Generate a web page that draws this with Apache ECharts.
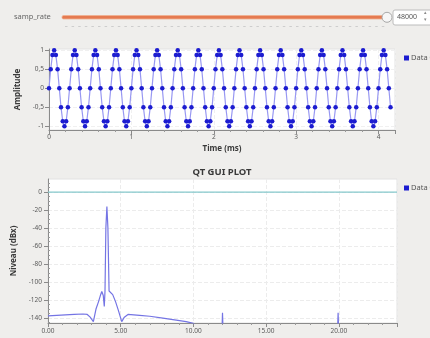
<!DOCTYPE html>
<html>
<head>
<meta charset="utf-8">
<script src="https://cdn.jsdelivr.net/npm/echarts@6/dist/echarts.min.js"></script>
<style>
html,body{margin:0;padding:0;background:#efeeec;}
#c{width:430px;height:338px;}
</style>
</head>
<body>
<div id="c"></div>
<script>
// ---- data ----
const sampRate = 48000;
const sliderValue = "48000";
// time-domain samples (amplitude)
const amplitude = [
0,0.5,0.87,1,0.87,0.5,0,-0.5,-0.87,-1,-0.87,-0.5,
0,0.5,0.87,1,0.87,0.5,0,-0.5,-0.87,-1,-0.87,-0.5,
0,0.5,0.87,1,0.87,0.5,0,-0.5,-0.87,-1,-0.87,-0.5,
0,0.5,0.87,1,0.87,0.5,0,-0.5,-0.87,-1,-0.87,-0.5,
0,0.5,0.87,1,0.87,0.5,0,-0.5,-0.87,-1,-0.87,-0.5,
0,0.5,0.87,1,0.87,0.5,0,-0.5,-0.87,-1,-0.87,-0.5,
0,0.5,0.87,1,0.87,0.5,0,-0.5,-0.87,-1,-0.87,-0.5,
0,0.5,0.87,1,0.87,0.5,0,-0.5,-0.87,-1,-0.87,-0.5,
0,0.5,0.87,1,0.87,0.5,0,-0.5,-0.87,-1,-0.87,-0.5,
0,0.5,0.87,1,0.87,0.5,0,-0.5,-0.87,-1,-0.87,-0.5,
0,0.5,0.87,1,0.87,0.5,0,-0.5,-0.87,-1,-0.87,-0.5,
0,0.5,0.87,1,0.87,0.5,0,-0.5,-0.87,-1,-0.87,-0.5,
0,0.5,0.87,1,0.87,0.5,0,-0.5,-0.87,-1,-0.87,-0.5,
0,0.5,0.87,1,0.87,0.5,0,-0.5,-0.87,-1,-0.87,-0.5,
0,0.5,0.87,1,0.87,0.5,0,-0.5,-0.87,-1,-0.87,-0.5,
0,0.5,0.87,1,0.87,0.5,0,-0.5,-0.87,-1,-0.87,-0.5,
0,0.5,0.87,1,0.87,0.5,0,-0.5
];
const ampTicks = [-1,-0.5,0,0.5,1];
const timeTicks = [0,1,2,3,4];

// spectrum (kHz, dB)
const freqKHz = [0,0.6,1.2,1.8,2.4,2.7,2.9,3.12,3.3,3.47,3.6,3.7,3.8,3.87,3.92,3.98,4.05,4.12,4.2,4.3,4.45,4.65,4.85,5.07,5.25,5.5,6.3,7.0,7.9,8.7,9.5,10.0,10.3,11.97,12.0,12.03,19.92,19.95,19.98,24];
const levelDb = [-137.5,-137,-136.5,-136,-135.5,-136,-139,-144,-130,-122,-115,-110.5,-115,-127,-110,-40,-16,-40,-110,-109.5,-114,-122,-132,-144,-139,-136,-137,-138,-140,-142,-144,-146,-150,-150,-134,-150,-150,-134,-150,-150];
const refLevel = 0;
const freqTicks = [0,5,10,15,20];
const dbTicks = [-140,-120,-100,-80,-60,-40,-20,0];
const dbMinor = [-145,-135,-130,-125,-115,-110,-105,-95,-90,-85,-75,-70,-65,-55,-50,-45,-35,-30,-25,-15,-10,-5,5,10];

// ---- build ----
const sineData = amplitude.map((v,i)=>[i/sampRate*1000, v]);
const specData = freqKHz.map((f,i)=>[f, levelDb[i]]);

const FONT = 'Noto Sans';
const labelStyle = {fontSize:6.5, color:'#5a5a5a', fontFamily:FONT};

const graphics = [];
graphics.push({type:'text', left:14, top:13, style:{text:'samp_rate', fontSize:7.5, fill:'#666', fontFamily:FONT}});
graphics.push({type:'rect', shape:{x:62, y:15.5, width:324, height:3.5, r:1.5}, style:{fill:'#e57a50', stroke:'#f0b090', lineWidth:0.8}});
for (let x=65; x<384; x+=6.6) {
  graphics.push({type:'rect', shape:{x:x, y:26, width:2.5, height:1}, style:{fill:'#cdcdcd'}});
}
graphics.push({type:'circle', shape:{cx:387, cy:17.3, r:5}, style:{fill:'#f6f6f6', stroke:'#a8a8a8', lineWidth:1}});
graphics.push({type:'rect', shape:{x:393, y:10, width:40, height:15, r:2}, style:{fill:'#ffffff', stroke:'#bcbcbc', lineWidth:1}});
graphics.push({type:'text', left:397, top:13, style:{text:sliderValue, fontSize:7, fill:'#555', fontFamily:FONT}});
graphics.push({type:'text', left:424, top:10, style:{text:'\u25B4', fontSize:5, fill:'#888'}});
graphics.push({type:'text', left:424, top:17, style:{text:'\u25BE', fontSize:5, fill:'#888'}});
graphics.push({type:'text', x:222, y:172, style:{text:'QT GUI PLOT', fontSize:9.5, fontWeight:'bold', fill:'#3a3a3a', fontFamily:FONT, align:'center', verticalAlign:'middle'}});

const chart = echarts.init(document.getElementById('c'), null, {renderer:'canvas'});
chart.setOption({
  backgroundColor:'#efeeec',
  animation:false,
  textStyle:{fontFamily:FONT},
  graphic: graphics,
  legend:[
    {data:['Data 0'], left:399, top:49, icon:'rect', itemWidth:5, itemHeight:5, itemGap:2,
     textStyle:{fontSize:7.5, color:'#555', padding:[0,0,0,-3]}, selectedMode:false},
    {data:['Data 0'], left:399, top:179, icon:'rect', itemWidth:5, itemHeight:5, itemGap:2,
     textStyle:{fontSize:7.5, color:'#555', padding:[0,0,0,-3]}, selectedMode:false}
  ],
  grid:[
    {left:49, top:49, width:346, height:81, show:true, backgroundColor:'#ffffff', borderColor:'#e2e2e2', borderWidth:1},
    {left:48, top:179, width:349, height:144, show:true, backgroundColor:'#ffffff', borderColor:'#e2e2e2', borderWidth:1}
  ],
  xAxis:[
    {type:'value', gridIndex:0, min:0, max:4.2, interval:1,
     name:'Time (ms)', nameLocation:'middle', nameGap:15,
     nameTextStyle:{fontSize:8, fontWeight:'bold', color:'#3a3a3a'},
     axisLine:{show:true, onZero:false, lineStyle:{color:'#8a8a8a'}},
     axisTick:{show:true, length:4, lineStyle:{color:'#8a8a8a'}},
     minorTick:{show:true, splitNumber:5, length:2, lineStyle:{color:'#9a9a9a'}},
     axisLabel:Object.assign({margin:4, customValues:timeTicks, formatter:v=>String(v)}, labelStyle),
     splitLine:{show:true, lineStyle:{color:'#f0f0f0', type:'dashed'}}},
    {type:'value', gridIndex:1, min:0, max:24, interval:5,
     axisLine:{show:true, onZero:false, lineStyle:{color:'#8a8a8a'}},
     axisTick:{show:true, length:4, lineStyle:{color:'#8a8a8a'}},
     minorTick:{show:true, splitNumber:5, length:2, lineStyle:{color:'#9a9a9a'}},
     axisLabel:Object.assign({margin:5, customValues:freqTicks, formatter:v=>v.toFixed(2)}, labelStyle),
     splitLine:{show:true, lineStyle:{color:'#ececec', type:'dashed'}}}
  ],
  yAxis:[
    {type:'value', gridIndex:0, min:-1.1, max:1.03,
     name:'Amplitude', nameLocation:'middle', nameGap:21,
     nameTextStyle:{fontSize:8, fontWeight:'bold', color:'#3a3a3a'},
     axisLine:{show:true, onZero:false, lineStyle:{color:'#8a8a8a'}},
     axisTick:{show:true, length:4, customValues:ampTicks, lineStyle:{color:'#8a8a8a'}},
     axisLabel:Object.assign({margin:5, customValues:ampTicks, formatter:v=>String(v).replace('.',',')}, labelStyle),
     splitLine:{show:true, lineStyle:{color:'#f0f0f0', type:'dashed'}}},
    {type:'value', gridIndex:1, min:-145.5, max:14.5,
     name:'Niveau (dBx)', nameLocation:'middle', nameGap:22,
     nameTextStyle:{fontSize:8, fontWeight:'bold', color:'#3a3a3a'},
     axisLine:{show:true, onZero:false, lineStyle:{color:'#8a8a8a'}},
     axisTick:{show:true, length:4, customValues:dbTicks, lineStyle:{color:'#8a8a8a'}},
     axisLabel:Object.assign({margin:6, customValues:dbTicks, formatter:v=>String(v)}, labelStyle),
     splitLine:{show:true, lineStyle:{color:'#ececec', type:'dashed'}}},
    {type:'value', gridIndex:1, min:-145.5, max:14.5,
     axisLine:{show:false},
     axisTick:{show:true, length:2, customValues:dbMinor, lineStyle:{color:'#9a9a9a'}},
     axisLabel:{show:false},
     splitLine:{show:false}}
  ],
  series:[
    {name:'Data 0', type:'line', xAxisIndex:0, yAxisIndex:0, data:sineData,
     symbol:'circle', symbolSize:4.5, showSymbol:true,
     lineStyle:{color:'#9898f2', width:1.2}, itemStyle:{color:'#1c1cd0'}},
    {name:'ref', type:'line', xAxisIndex:1, yAxisIndex:1, data:[[0,refLevel],[24,refLevel]],
     symbol:'none', lineStyle:{color:'#86c9cc', width:1.2}},
    {name:'Data 0', type:'line', xAxisIndex:1, yAxisIndex:1, data:specData,
     symbol:'none', clip:true,
     lineStyle:{color:'#7474e4', width:1.2}, itemStyle:{color:'#1c1cd0'}}
  ]
});
</script>
</body>
</html>
